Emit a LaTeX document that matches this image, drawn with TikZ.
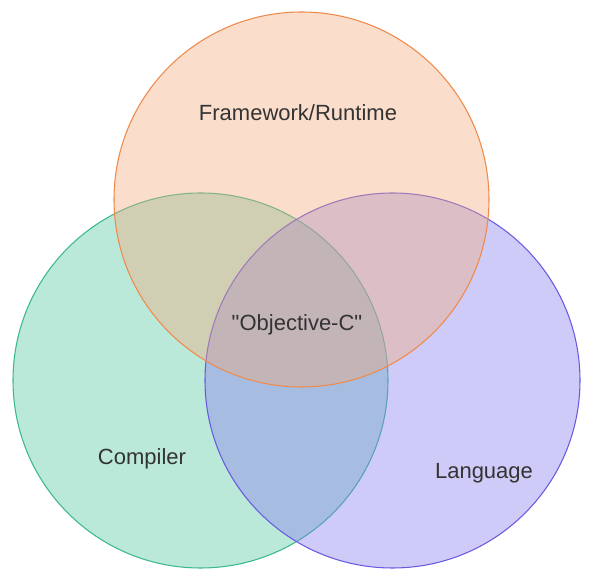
\documentclass[tikz,border=0pt]{standalone}
\usepackage{fontspec}
\setmainfont{Liberation Sans}
\usepackage{tikz}
\usetikzlibrary{positioning}

\definecolor{runtimefill}{RGB}{242,170,125}
\definecolor{runtimeline}{RGB}{240,138,75}
\definecolor{compilerfill}{RGB}{82,197,160}
\definecolor{compilerline}{RGB}{60,185,142}
\definecolor{languagefill}{RGB}{135,125,237}
\definecolor{languageline}{RGB}{106,90,224}
\definecolor{labeltext}{RGB}{51,51,51}

% straight double quote, kept out of the TeX ligature mapping
\newcommand{\straightdq}{\XeTeXglyph\XeTeXglyphindex "quotedbl"\relax}

\begin{document}
\begin{tikzpicture}[x=0.75pt, y=-0.75pt,
    set/.style={circle, draw, line width=0.8pt, fill opacity=0.4, draw opacity=1, minimum size=281.25pt, inner sep=0pt},
    setlabel/.style={text=labeltext, font=\fontsize{16.5}{20}\selectfont}]
    \useasboundingbox (0,0) rectangle (594,580);

    \node[set, draw=compilerline, fill=compilerfill] (compiler) at (200.5,380.5) {};
    \node[set, draw=languageline, fill=languagefill] (language) at (392.5,380.5) {};
    \node[set, draw=runtimeline, fill=runtimefill] (runtime) at (301.5,199.5) {};

    \node[setlabel] (runtimetext) at (298,113) {Framework/Runtime};
    \node[setlabel] (objctext) at (297,325) {\straightdq Objective-C\straightdq};
    \node[setlabel] (compilertext) at (142,459) {Compiler};
    \node[setlabel] (languagetext) at (484,473) {Language};
\end{tikzpicture}
\end{document}
